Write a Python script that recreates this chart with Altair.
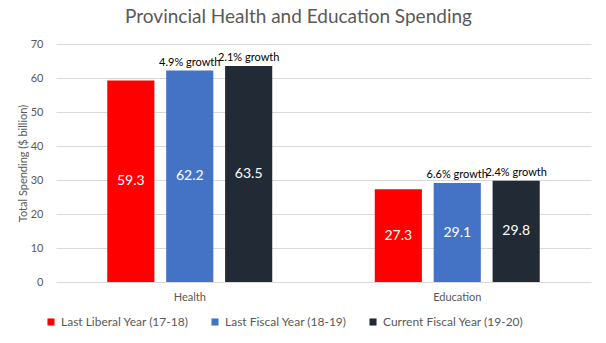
import altair as alt
import pandas as pd

categories = ["Health", "Education"]
series = ["Last Liberal Year (17-18)", "Last Fiscal Year (18-19)", "Current Fiscal Year (19-20)"]
health_values = [59.3, 62.2, 63.5]
education_values = [27.3, 29.1, 29.8]
health_growth = ["", "4.9% growth", "2.1% growth"]
education_growth = ["", "6.6% growth", "2.4% growth"]
colors = ["#FF0000", "#4472C4", "#222A35"]
y_ticks = [0, 10, 20, 30, 40, 50, 60, 70]

rows = []
for cat, vals, gr in [("Health", health_values, health_growth), ("Education", education_values, education_growth)]:
    for s, v, g in zip(series, vals, gr):
        rows.append({"category": cat, "series": s, "value": v, "growth": g, "label": f"{v:.1f}"})
df = pd.DataFrame(rows)

FONT = "Lato"
YTITLE = "Total Spending ($ billion)"

x_axis = alt.Axis(labelAngle=0, ticks=False, grid=False, domain=False, labelColor="#595959",
                  labelFontSize=11, labelPadding=9, labelFont=FONT)
y_axis = alt.Axis(values=y_ticks, domain=False, ticks=False, gridColor="#D9D9D9",
                  labelColor="#595959", labelFontSize=11, labelPadding=13, labelFont=FONT,
                  titleColor="#595959", titleFontSize=11, titleFontWeight="normal",
                  titleFont=FONT, titlePadding=2)
x_scale = alt.Scale(paddingInner=0, paddingOuter=0)
y_scale = alt.Scale(domain=[0, 70])

x = alt.X("category:N", sort=categories, title=None, scale=x_scale, axis=x_axis)
xo = alt.XOffset("series:N", sort=series, scale=alt.Scale(paddingInner=0.2, paddingOuter=0.87))

base = alt.Chart(df)
bars = base.mark_bar().encode(
    x=x, xOffset=xo,
    y=alt.Y("value:Q", scale=y_scale, title=YTITLE, axis=y_axis),
    color=alt.Color("series:N", sort=series, scale=alt.Scale(domain=series, range=colors),
                    legend=alt.Legend(title=None, orient="none", direction="horizontal",
                                      legendX=-11, legendY=272, symbolType="square", symbolSize=50,
                                      labelColor="#595959", labelFontSize=12, labelFont=FONT,
                                      columnPadding=20, symbolStrokeWidth=0))
)
inner = base.mark_text(color="white", fontSize=14, font=FONT).encode(
    x=x, xOffset=xo,
    y=alt.Y("mid:Q", scale=y_scale, title=YTITLE, axis=y_axis), text="label:N"
).transform_calculate(mid="datum.value / 2")
growth = base.mark_text(color="black", fontSize=11, font=FONT, baseline="bottom", dy=-3).encode(
    x=x, xOffset=xo,
    y=alt.Y("value:Q", scale=y_scale, title=YTITLE, axis=y_axis), text="growth:N"
)

chart = alt.layer(bars, inner, growth).properties(
    width=535, height=238,
    title=alt.Title("Provincial Health and Education Spending", fontSize=19, color="#595959",
                    fontWeight="normal", font=FONT, offset=11, anchor="middle", dx=-25),
    autosize=alt.AutoSizeParams(type="none"),
    padding={"left": 56, "top": 44, "right": 15, "bottom": 61},
    view=alt.ViewBackground(strokeWidth=0, strokeOpacity=0),
).configure(background="white").configure_view(
    strokeWidth=0, strokeOpacity=0
).configure_axisX(grid=False)

chart.save("out.html", embed_options={"renderer": "svg", "actions": False})
